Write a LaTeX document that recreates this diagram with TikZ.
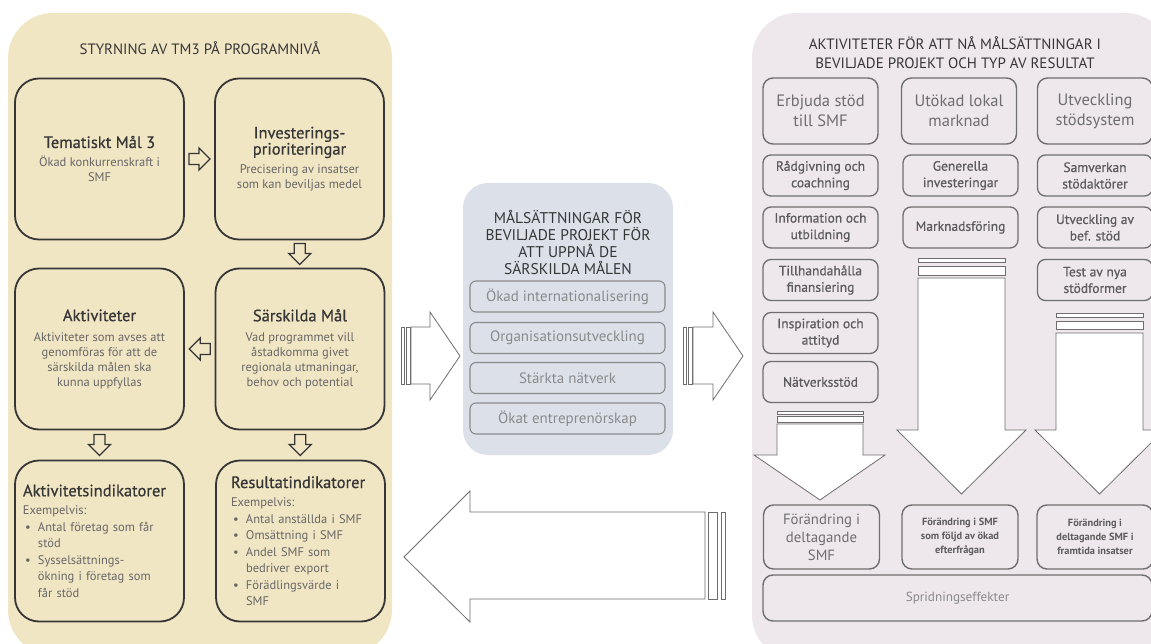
\documentclass[tikz,border=0pt]{standalone}
\usepackage{fontspec}
\setmainfont{PT Sans}
\newfontfamily\medfont{PT Sans}[FakeBold=0.7]
\usetikzlibrary{calc}

\definecolor{sand}{HTML}{F1E6C4}
\definecolor{mist}{HTML}{DCE1E9}
\definecolor{blush}{HTML}{EEE8EC}
\definecolor{ink}{HTML}{363636}
\definecolor{slate}{HTML}{666666}
\definecolor{ash}{HTML}{6E6E6E}
\definecolor{smoke}{HTML}{5C5C5C}
\definecolor{fog}{HTML}{8A8A8A}

\newcommand{\bulitem}{\makebox[15pt][l]{\hspace{2pt}\textbullet}}
\newcommand{\bulcont}{\hspace*{15pt}}
\newcommand{\headfont}{\medfont\fontsize{16.5}{20}\selectfont\color{ink}}

\tikzset{
  ptitle/.style={align=center, text=ink, font=\fontsize{15}{18.5}\selectfont},
  lbox/.style={draw=ink, line width=1.8pt, rounded corners=24pt, minimum width=169pt,
    minimum height=161pt, align=center, text=slate, inner sep=0pt,
    font=\fontsize{12.5}{15}\selectfont},
  indbox/.style={lbox, align=left, text width=153pt, font=\fontsize{12.5}{16.5}\selectfont},
  mtitle/.style={align=center, text=ink, font=\fontsize{15.5}{17}\selectfont},
  tbox/.style={draw=fog, line width=1.1pt, rounded corners=6pt, minimum width=195pt,
    minimum height=31pt, text=fog, font=\fontsize{15}{17}\selectfont},
  headbox/.style={draw=ash, line width=1.4pt, rounded corners=10pt, minimum width=115pt,
    minimum height=66pt, align=center, text=ash, font=\fontsize{16.5}{20}\selectfont},
  subbox/.style={draw=ash, line width=1.3pt, rounded corners=8pt, minimum width=115pt,
    minimum height=41pt, align=center, text=smoke, font=\medfont\fontsize{13.5}{16.5}\selectfont},
  resbox/.style={headbox, minimum width=116pt, minimum height=64pt},
  smallres/.style={resbox, text=smoke, font=\bfseries\fontsize{10.4}{14}\selectfont},
  bigarrow/.style={draw=ash, line width=0.8pt, fill=white},
  hollow/.style={draw=ink, line width=1.4pt, fill=sand, line join=miter},
  pics/hollowarrow/.style={code={
    \draw[hollow] (-10.5,-5.5) -- (-0.5,-5.5) -- (-0.5,-11) -- (10.5,0) -- (-0.5,11)
      -- (-0.5,5.5) -- (-10.5,5.5) -- cycle;}}
}

\begin{document}
\begin{tikzpicture}[x=1pt, y=-1pt]
    \clip (0,0) rectangle (1151,644);
    \fill[white] (0,0) rectangle (1151,644);

    % styrning
    \fill[sand, rounded corners=45pt] (8,13) rectangle (392,655);
    \node[ptitle] (styrtitle) at (200,48) {STYRNING AV TM3 PÅ PROGRAMNIVÅ};

    \node[lbox] (tm) at (99.5,159) {{\headfont Tematiskt Mål 3}\\[4pt]
        Ökad konkurrenskraft i\\SMF};
    \node[lbox] (inv) at (299.5,159) {{\headfont Investerings-}\\{\headfont prioriteringar}\\[4pt]
        Precisering av insatser\\som kan beviljas medel};
    \node[lbox] (akt) at (99.5,349) {{\headfont Aktiviteter}\\[5pt]
        Aktiviteter som avses att\\genomföras för att de\\särskilda målen ska\\kunna uppfyllas};
    \node[lbox] (sar) at (300,349) {{\headfont Särskilda Mål}\\[5pt]
        Vad programmet vill\\åstadkomma givet\\regionala utmaningar,\\behov och potential};
    \node[indbox] (aind) at (99.5,541) {{\headfont Aktivitetsindikatorer}\\[2pt]
        Exempelvis:\\
        \bulitem Antal företag som får\\\bulcont stöd\\
        \bulitem Sysselsättnings-\\\bulcont ökning i företag som\\\bulcont får stöd};
    \node[indbox, text width=139pt] (rind) at (300.5,541) {{\headfont Resultatindikatorer}\\[2pt]
        Exempelvis:\\
        \bulitem Antal anställda i SMF\\
        \bulitem Omsättning i SMF\\
        \bulitem Andel SMF som\\\bulcont bedriver export\\
        \bulitem Förädlingsvärde i\\\bulcont SMF};

    \pic at ($(tm.east)!0.5!(inv.west)$) {hollowarrow};
    \pic[rotate=-90] at ($(inv.south)!0.5!(sar.north)$) {hollowarrow};
    \pic[rotate=180] at ($(sar.west)!0.5!(akt.east)$) {hollowarrow};
    \pic[rotate=-90] at ($(akt.south)!0.5!(aind.north)$) {hollowarrow};
    \pic[rotate=-90] at ($(sar.south)!0.5!(rind.north)$) {hollowarrow};

    % malsattningar
    \fill[mist, rounded corners=25pt] (463,183) rectangle (673,455);
    \node[mtitle] (maltitle) at (568,242) {MÅLSÄTTNINGAR FÖR\\BEVILJADE PROJEKT FÖR\\ATT UPPNÅ DE\\SÄRSKILDA MÅLEN};
    \node[tbox] (m1) at (567.5,296.5) {Ökad internationalisering};
    \node[tbox] (m2) at (567.5,338) {Organisationsutveckling};
    \node[tbox] (m3) at (567.5,378) {Stärkta nätverk};
    \node[tbox] (m4) at (567.5,418.5) {Ökat entreprenörskap};

    \draw[bigarrow] (401,327) rectangle (404,384);
    \draw[bigarrow] (406,327) rectangle (410,384);
    \draw[bigarrow] (411,327) -- (430,327) -- (430,312) -- (460,356) -- (430,400) -- (430,384) -- (411,384) -- cycle;

    \draw[bigarrow] (683,327) rectangle (686,384);
    \draw[bigarrow] (688,327) rectangle (692,384);
    \draw[bigarrow] (693,327) -- (713,327) -- (713,312) -- (743,356) -- (713,400) -- (713,384) -- (693,384) -- cycle;

    \draw[bigarrow] (721,512) rectangle (725,599);
    \draw[bigarrow] (708,512) rectangle (717,599);
    \draw[bigarrow] (705,512) -- (470,512) -- (470,491) -- (404,557) -- (470,622) -- (470,599) -- (705,599) -- cycle;

    % aktiviteter
    \fill[blush, rounded corners=45pt] (752,13) rectangle (1170,660);
    \node[ptitle] (akttitle) at (955,52.5) {AKTIVITETER FÖR ATT NÅ MÅLSÄTTNINGAR I\\BEVILJADE PROJEKT OCH TYP AV RESULTAT};

    \node[headbox] (h1) at (820.5,111) {Erbjuda stöd\\till SMF};
    \node[headbox] (h2) at (959,111) {Utökad lokal\\marknad};
    \node[headbox] (h3) at (1095,111) {Utveckling\\stödsystem};

    \node[subbox] (s11) at (820.5,175.5) {Rådgivning och\\coachning};
    \node[subbox] (s12) at (820.5,227.5) {Information och\\utbildning};
    \node[subbox] (s13) at (820.5,280) {Tillhandahålla\\finansiering};
    \node[subbox] (s14) at (820.5,333) {Inspiration och\\attityd};
    \node[subbox] (s15) at (820.5,382) {Nätverksstöd};
    \node[subbox] (s21) at (960.5,175.5) {Generella\\investeringar};
    \node[subbox] (s22) at (960.5,227.5) {Marknadsföring};
    \node[subbox] (s31) at (1095,175.5) {Samverkan\\stödaktörer};
    \node[subbox] (s32) at (1095,227.5) {Utveckling av\\bef. stöd};
    \node[subbox] (s33) at (1095,280) {Test av nya\\stödformer};

    \draw[bigarrow] (777,411) rectangle (863,414);
    \draw[bigarrow] (777,416) rectangle (863,422);
    \draw[bigarrow] (777,424) -- (863,424) -- (863,455) -- (885,455) -- (820,500) -- (754,455) -- (777,455) -- cycle;

    \draw[bigarrow] (918,258) rectangle (1005,262);
    \draw[bigarrow] (918,266) rectangle (1005,275);
    \draw[bigarrow] (918,278) -- (1005,278) -- (1005,430) -- (1026,430) -- (961.5,494) -- (897,430) -- (918,430) -- cycle;

    \draw[bigarrow] (1056,313) rectangle (1143,317);
    \draw[bigarrow] (1056,321) rectangle (1143,329);
    \draw[bigarrow] (1056,333) -- (1143,333) -- (1143,430) -- (1164,430) -- (1099.5,494) -- (1035,430) -- (1056,430) -- cycle;

    \node[resbox, font=\fontsize{14.8}{18}\selectfont] (r1) at (821.5,537) {Förändring i\\deltagande\\SMF};
    \node[smallres] (r2) at (960,537) {Förändring i SMF\\som följd av ökad\\efterfrågan};
    \node[smallres] (r3) at (1095,537) {Förändring i\\deltagande SMF i\\framtida insatser};
    \node[resbox, minimum width=389pt, minimum height=46pt, text=fog,
        font=\fontsize{13.2}{16}\selectfont] (sprid) at (957.5,598) {Spridningseffekter};
\end{tikzpicture}
\end{document}
